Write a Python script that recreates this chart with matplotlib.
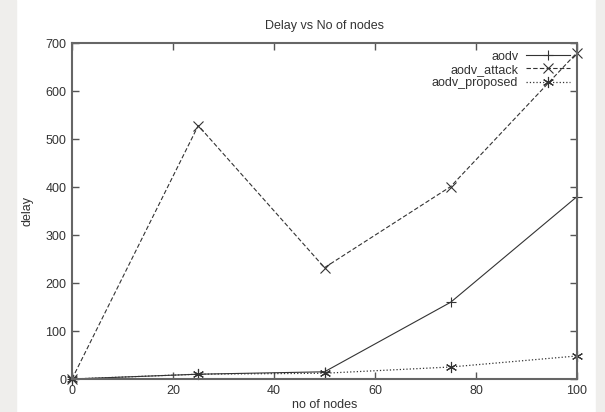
import matplotlib
matplotlib.use("Agg")
import matplotlib.pyplot as plt
from matplotlib.patches import Rectangle

nodes = [0, 25, 50, 75, 100]
aodv = [0, 10, 15, 160, 380]
aodv_attack = [0, 528, 232, 401, 680]
aodv_proposed = [0, 10, 12, 25, 48]

plt.rcParams['font.family'] = ['Liberation Sans', 'DejaVu Sans']

fig = plt.figure(figsize=(6.05, 4.12), dpi=100)
fig.patches.append(Rectangle((0, 0), 16/605, 1, transform=fig.transFigure, color='#efeeec', zorder=-10))
fig.patches.append(Rectangle((596/605, 0), 9/605, 1, transform=fig.transFigure, color='#efeeec', zorder=-10))
ax = fig.add_axes([72/605, 1-379/412, 505/605, 336/412])

lc = '#333333'
ax.plot(nodes, aodv, '-', color=lc, lw=0.8, marker='+', ms=7, mew=0.8, label='aodv', clip_on=False)
ax.plot(nodes, aodv_attack, '--', color=lc, lw=0.8, marker='x', ms=7, mew=0.8, label='aodv_attack', dashes=(4, 2), clip_on=False)
ax.plot(nodes, aodv_proposed, ':', color=lc, lw=0.9, marker=(6, 2, 0), ms=8, mew=0.8, label='aodv_proposed', clip_on=False)

ax.set_xlim(0, 100)
ax.set_ylim(0, 700)
ax.set_xticks([0, 20, 40, 60, 80, 100])
ax.set_yticks([0, 100, 200, 300, 400, 500, 600, 700])
ax.tick_params(direction='in', top=True, right=True, length=5, width=1, color='#555555', labelsize=9, labelcolor='#333333', pad=4)
for s in ax.spines.values():
    s.set_color('#666666')
    s.set_linewidth(1.5)

ax.set_title('Delay vs No of nodes', fontsize=9, color='#333333', pad=10)
ax.set_xlabel('no of nodes', fontsize=9, color='#333333', va='center')
ax.set_ylabel('delay', fontsize=9, color='#333333', va='center')
ax.xaxis.set_label_coords(0.5, (379-405)/336)
ax.yaxis.set_label_coords((28-72)/505, 0.5)

leg = ax.legend(loc='upper right', frameon=False, markerfirst=False, fontsize=9,
                handlelength=3.5, borderaxespad=0.2, labelspacing=0.1, handletextpad=0.6)
for t in leg.get_texts():
    t.set_color('#333333')

fig.savefig('out.png', dpi=100)
